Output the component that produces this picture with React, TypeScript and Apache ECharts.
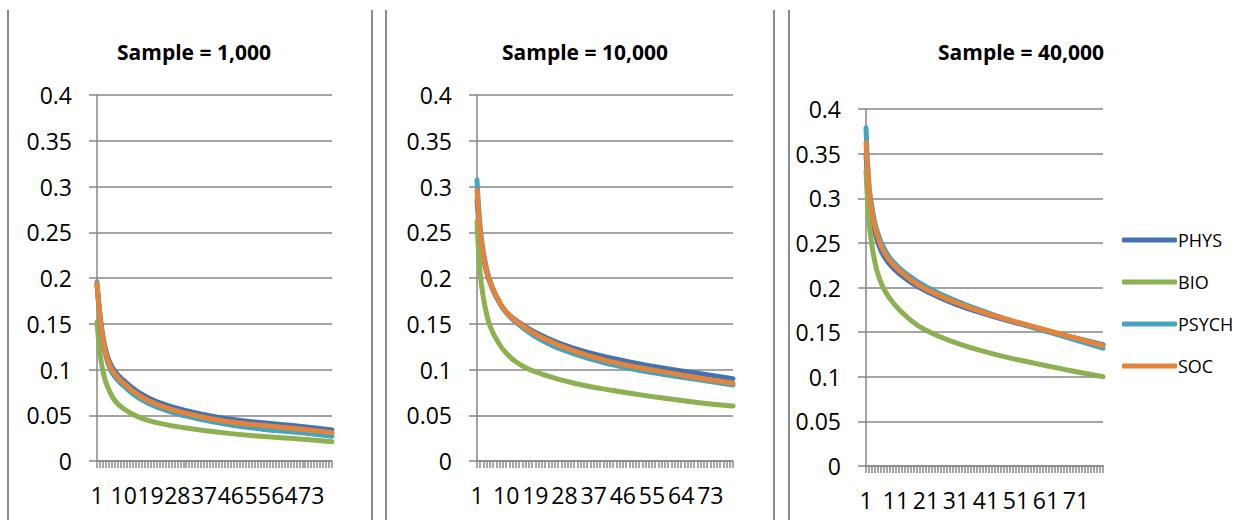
import React, { useEffect, useRef } from "react";
import * as echarts from "echarts";

const seriesNames = ["PHYS", "BIO", "PSYCH", "SOC"];
const seriesColors = ["#4572B0", "#8DB050", "#45A3BE", "#E3843A"];
const titles = ["Sample = 1,000", "Sample = 10,000", "Sample = 40,000"];
const categories = Array.from({ length: 80 }, (_, i) => String(i + 1));
const yTicks = [0, 0.05, 0.1, 0.15, 0.2, 0.25, 0.3, 0.35, 0.4];

const sampleIdx = [0, 1, 2, 3, 4, 6, 9, 14, 20, 30, 42, 55, 68, 79];

// Sample = 1,000
const phys1 = [0.192, 0.16, 0.136, 0.121, 0.11, 0.098, 0.088, 0.075, 0.065, 0.055, 0.047, 0.042, 0.038, 0.034];
const bio1 = [0.152, 0.118, 0.098, 0.086, 0.078, 0.066, 0.057, 0.048, 0.042, 0.036, 0.031, 0.027, 0.024, 0.021];
const psych1 = [0.196, 0.155, 0.13, 0.115, 0.104, 0.092, 0.082, 0.069, 0.059, 0.049, 0.041, 0.035, 0.031, 0.027];
const soc1 = [0.194, 0.158, 0.133, 0.118, 0.107, 0.095, 0.085, 0.072, 0.062, 0.052, 0.044, 0.039, 0.035, 0.031];

// Sample = 10,000
const phys2 = [0.285, 0.245, 0.222, 0.206, 0.195, 0.179, 0.163, 0.149, 0.137, 0.123, 0.112, 0.103, 0.096, 0.09];
const bio2 = [0.262, 0.205, 0.178, 0.16, 0.148, 0.133, 0.118, 0.104, 0.095, 0.085, 0.077, 0.07, 0.064, 0.06];
const psych2 = [0.307, 0.255, 0.228, 0.21, 0.197, 0.18, 0.162, 0.146, 0.132, 0.117, 0.105, 0.096, 0.089, 0.083];
const soc2 = [0.296, 0.25, 0.225, 0.208, 0.196, 0.18, 0.163, 0.148, 0.135, 0.12, 0.108, 0.099, 0.091, 0.085];

// Sample = 40,000
const phys3 = [0.35, 0.3, 0.277, 0.262, 0.25, 0.235, 0.222, 0.208, 0.196, 0.181, 0.168, 0.156, 0.145, 0.136];
const bio3 = [0.33, 0.275, 0.247, 0.228, 0.215, 0.198, 0.183, 0.166, 0.152, 0.138, 0.126, 0.116, 0.107, 0.1];
const psych3 = [0.379, 0.315, 0.29, 0.272, 0.26, 0.244, 0.229, 0.214, 0.201, 0.185, 0.17, 0.156, 0.143, 0.132];
const soc3 = [0.362, 0.31, 0.285, 0.268, 0.256, 0.24, 0.226, 0.211, 0.198, 0.183, 0.169, 0.157, 0.145, 0.135];

const panels = [
  [phys1, bio1, psych1, soc1],
  [phys2, bio2, psych2, soc2],
  [phys3, bio3, psych3, soc3],
];

const FONT = "'Open Sans', 'Noto Sans', sans-serif";
const GRAY = "#878787";

export default function App() {
  const ref = useRef<HTMLDivElement>(null);
  useEffect(() => {
    if (!ref.current) return;
    const chart = echarts.init(ref.current, null, { renderer: "svg" });
    const grids = [
      { left: 97, top: 95, width: 235, height: 366 },
      { left: 477, top: 95, width: 256, height: 366 },
      { left: 866, top: 109, width: 237, height: 357 },
    ];
    const titleCenters = [
      { x: 189, y: 47 },
      { x: 580, y: 47 },
      { x: 1016, y: 47 },
    ];
    const labelIntervals = [8, 8, 9];
    const series: any[] = [];
    panels.forEach((vals, p) => {
      vals.forEach((arr, s) => {
        series.push({
          name: seriesNames[s],
          type: "line",
          xAxisIndex: p,
          yAxisIndex: p,
          data: sampleIdx.map((ix, k) => [ix, arr[k]]),
          showSymbol: false,
          symbol: "none",
          smooth: 0.5,
          lineStyle: { width: 5, color: seriesColors[s], cap: "round", join: "round" },
          itemStyle: { color: seriesColors[s] },
          z: 2 + s,
        });
      });
    });
    const sepLines: number[] = [8, 372, 386, 774, 789];
    chart.setOption({
      animation: false,
      backgroundColor: "#ffffff",
      title: titles.map((t, i) => ({
        text: t,
        left: titleCenters[i].x,
        top: titleCenters[i].y,
        textAlign: "center",
        textVerticalAlign: "middle",
        textStyle: { fontFamily: FONT, fontWeight: "bold", fontSize: 21, color: "#000" },
      })),
      legend: {
        orient: "vertical",
        left: 1117,
        top: 226,
        itemWidth: 55,
        itemHeight: 5,
        itemGap: 24,
        icon: "roundRect",
        data: seriesNames,
        textStyle: { fontFamily: FONT, fontSize: 18, color: "#000", padding: [0, 0, 0, -4] },
      },
      grid: grids,
      xAxis: grids.map((_, i) => ({
        type: "category",
        gridIndex: i,
        data: categories,
        boundaryGap: false,
        axisLine: { lineStyle: { color: GRAY, width: 1.5 } },
        axisTick: { show: true, interval: 0, length: 7, lineStyle: { color: "#8a8a8a", width: 1.5 } },
        axisLabel: {
          interval: labelIntervals[i],
          margin: 22,
          fontFamily: FONT,
          fontSize: 23,
          color: "#000",
        },
        splitLine: { show: false },
      })),
      yAxis: grids.map((_, i) => ({
        type: "value",
        gridIndex: i,
        min: yTicks[0],
        max: yTicks[yTicks.length - 1],
        interval: 0.05,
        axisLine: { show: true, lineStyle: { color: GRAY, width: 1.5 } },
        axisTick: { show: true, length: 8, lineStyle: { color: GRAY, width: 1.5 } },
        axisLabel: {
          margin: 25,
          fontFamily: FONT,
          fontSize: 23,
          color: "#000",
        },
        splitLine: { show: true, lineStyle: { color: GRAY, width: 1.5 } },
      })),
      series,
      graphic: sepLines.map((x) => ({
        type: "line",
        shape: { x1: x, y1: 10, x2: x, y2: 520 },
        style: { stroke: "#8c8c8c", lineWidth: 2 },
        silent: true,
      })),
    });
    return () => chart.dispose();
  }, []);
  return (
    <div
      ref={ref}
      style={{ position: "absolute", left: 0, top: 0, width: 1241, height: 520, background: "#fff" }}
    />
  );
}
